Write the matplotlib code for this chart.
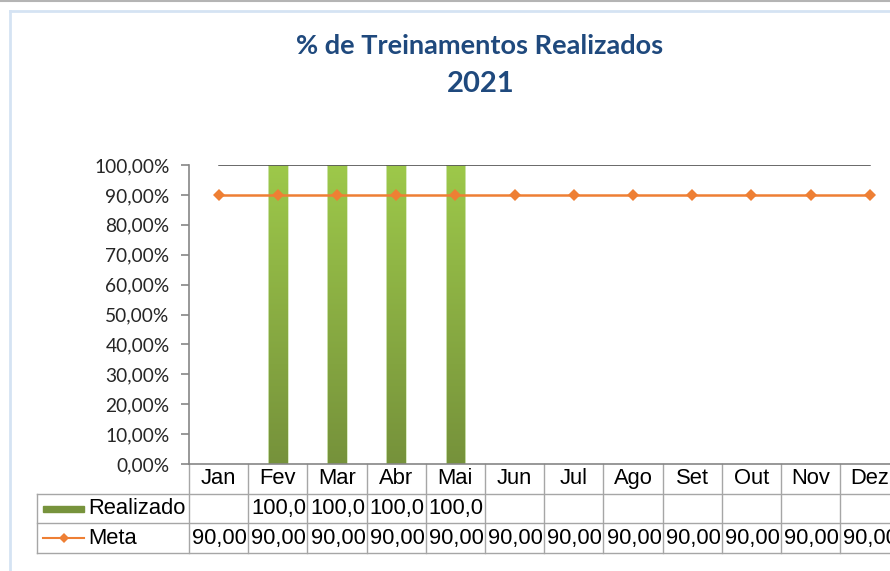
import numpy as np
import matplotlib
matplotlib.use("Agg")
import matplotlib.pyplot as plt
from matplotlib.lines import Line2D
from matplotlib.patches import Rectangle

# data
meses = ["Jan", "Fev", "Mar", "Abr", "Mai", "Jun", "Jul", "Ago", "Set", "Out", "Nov", "Dez"]
realizado = [np.nan, 100, 100, 100, 100, np.nan, np.nan, np.nan, np.nan, np.nan, np.nan, np.nan]
meta = [90, 90, 90, 90, 90, 90, 90, 90, 90, 90, 90, 90]
limite = [100] * 12
yticks = [0, 10, 20, 30, 40, 50, 60, 70, 80, 90, 100]

W, H = 890, 571
fig = plt.figure(figsize=(W / 100, H / 100), dpi=100)

def fx(px):
    return px / W

def fy(py):
    return 1 - py / H

# outer frame
fig.add_artist(Line2D([0, 1], [fy(1), fy(1)], color="#B4B4B4", lw=1.5))
fig.add_artist(Line2D([fx(10), 1], [fy(11), fy(11)], color="#D5E3F3", lw=2))
fig.add_artist(Line2D([fx(10), fx(10)], [fy(11), 0], color="#D5E3F3", lw=2))

# plot area (right side cut off like the reference)
x0, x1 = 189, 189 + 12 * 59.2
ax = fig.add_axes([fx(x0), fy(464), (x1 - x0) / W, (464 - 165) / H])
x = np.arange(len(meses))

# gradient bars
grad = np.linspace(0, 1, 100).reshape(-1, 1)
cmap = matplotlib.colors.LinearSegmentedColormap.from_list("g", ["#9DC84A", "#76923B"])
bars = ax.bar(x, np.nan_to_num(realizado), width=0.33, color="none",
              edgecolor="#D4E8B8", linewidth=0.6, zorder=2)
for b, v in zip(bars, realizado):
    if np.isnan(v):
        continue
    bx, bw = b.get_x(), b.get_width()
    im = ax.imshow(grad, cmap=cmap, aspect="auto", extent=[bx, bx + bw, 0, v],
                   origin="upper", zorder=1.9)
    im.set_clip_path(b)
ax.set_xlim(-0.5, 11.5)
ax.set_ylim(0, 100)

ax.plot(x, limite, color="#404040", lw=1.1, zorder=3)
ax.plot(x, meta, color="#EE7F34", lw=1.8, marker="D", markersize=6.5,
        markeredgewidth=0, zorder=4, clip_on=False)

for s in ["top", "right"]:
    ax.spines[s].set_visible(False)
ax.spines["left"].set_color("#868686")
ax.spines["bottom"].set_color("#868686")
ax.spines["left"].set_linewidth(1.2)
ax.spines["bottom"].set_linewidth(1.2)
ax.set_yticks(yticks)
ax.set_yticklabels([f"{v:.2f}%".replace(".", ",") for v in yticks],
                   fontsize=13.8, fontfamily="Lato", color="#262626")
ax.tick_params(axis="y", length=6, color="#868686", width=1.2, pad=8)
ax.set_xticks([])

# data table below the axis
tr = ax.get_xaxis_transform()
rh = 29.7 / (464 - 165)
xl = -0.5 - (189 - 37) / 59.2
tc = "#A6A6A6"
tab_font = dict(fontfamily="Liberation Sans", fontsize=15.8, color="black")
for k in range(3):
    yy = -(k + 1) * rh
    ax.plot([xl, 11.5], [yy, yy], color=tc, lw=1, transform=tr, clip_on=False)
for i in range(len(meses) + 1):
    ax.plot([i - 0.5, i - 0.5], [0, -3 * rh], color=tc, lw=1, transform=tr, clip_on=False)
ax.plot([xl, xl], [-rh, -3 * rh], color=tc, lw=1, transform=tr, clip_on=False)

for i, m in enumerate(meses):
    ax.text(i, -0.5 * rh, m, ha="center", va="center", transform=tr, **tab_font)
    if not np.isnan(realizado[i]):
        ax.text(i + 0.48, -1.5 * rh, f"{realizado[i]:.1f}".replace(".", ","),
                ha="right", va="center", transform=tr, **tab_font)
    ax.text(i + 0.48, -2.5 * rh, f"{meta[i]:.2f}".replace(".", ","),
            ha="right", va="center", transform=tr, **tab_font)

# legend keys inside the table
ax.add_patch(Rectangle((xl + 0.1, -1.62 * rh), 0.7, 0.22 * rh, transform=tr,
                       color="#77933C", clip_on=False))
ax.text(xl + 0.86, -1.5 * rh, "Realizado", ha="left", va="center", transform=tr, **tab_font)
ax.plot([xl + 0.1, xl + 0.8], [-2.5 * rh, -2.5 * rh], color="#EE7F34", lw=1.5,
        transform=tr, clip_on=False)
ax.plot([xl + 0.45], [-2.5 * rh], color="#EE7F34", marker="D", markersize=5.5,
        markeredgewidth=0, transform=tr, clip_on=False)
ax.text(xl + 0.86, -2.5 * rh, "Meta", ha="left", va="center", transform=tr, **tab_font)

# title
fig.text(fx(480), fy(46), "% de Treinamentos Realizados", ha="center", va="center",
         fontsize=19.5, fontweight="bold", fontfamily="Lato", color="#1F497D")
fig.text(fx(481), fy(84), "2021", ha="center", va="center",
         fontsize=21, fontweight="bold", fontfamily="Lato", color="#1F497D")

fig.savefig("out.png", dpi=100)
